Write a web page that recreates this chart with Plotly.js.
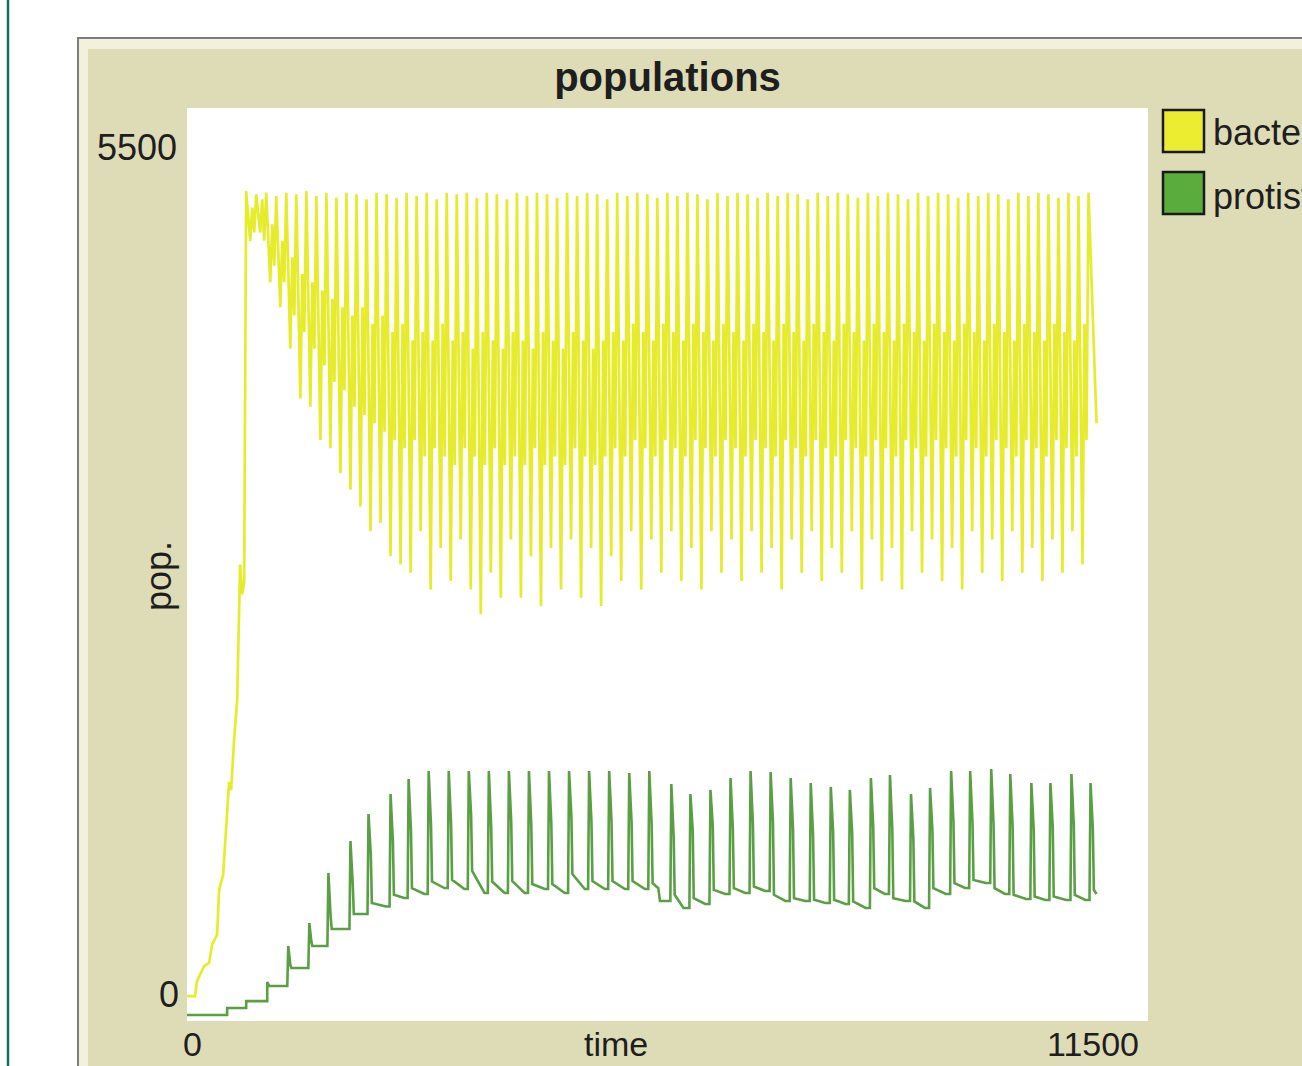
<!DOCTYPE html>
<html>
<head>
<meta charset="utf-8">
<script src="https://cdn.plot.ly/plotly-3.0.1.min.js"></script>
<style>html,body{margin:0;padding:0;background:#fff;overflow:hidden}#chart{width:1302px;height:1066px}</style>
</head>
<body>
<div id="chart"></div>
<script>
// ---- data ----
const seriesNames = ['bacteria', 'protists'];
const xRange = [0, 11500];
const yRange = [0, 5500];
const xTickLabels = ['0', '11500'];
const yTickLabels = ['0', '5500'];

const bacteriaTime = [0, 96, 120, 204, 264, 300, 360, 384, 432, 456, 504, 528, 564, 600, 624, 636, 660, 684,
708, 756, 780, 804, 828, 876, 900, 924, 948, 996, 1020, 1044, 1068, 1116, 1140, 1164,
1188, 1236, 1260, 1284, 1308, 1356, 1380, 1404, 1428, 1476, 1500, 1524, 1548, 1596, 1620, 1644,
1668, 1716, 1740, 1764, 1788, 1836, 1860, 1884, 1908, 1956, 1980, 2004, 2028, 2076, 2100, 2124,
2148, 2196, 2220, 2244, 2268, 2316, 2340, 2364, 2388, 2436, 2460, 2484, 2508, 2556, 2580, 2604,
2628, 2676, 2700, 2724, 2748, 2796, 2820, 2844, 2868, 2916, 2940, 2964, 2988, 3036, 3060, 3084,
3108, 3156, 3180, 3204, 3228, 3276, 3300, 3324, 3348, 3396, 3420, 3444, 3468, 3516, 3540, 3564,
3588, 3636, 3660, 3684, 3708, 3756, 3780, 3804, 3828, 3876, 3900, 3924, 3948, 3996, 4020, 4044,
4068, 4116, 4140, 4164, 4188, 4236, 4260, 4284, 4308, 4356, 4380, 4404, 4428, 4476, 4500, 4524,
4548, 4596, 4620, 4644, 4668, 4716, 4740, 4764, 4788, 4836, 4860, 4884, 4908, 4956, 4980, 5004,
5028, 5076, 5100, 5124, 5148, 5196, 5220, 5244, 5268, 5316, 5340, 5364, 5388, 5436, 5460, 5484,
5508, 5556, 5580, 5604, 5628, 5676, 5700, 5724, 5748, 5796, 5820, 5844, 5868, 5916, 5940, 5964,
5988, 6036, 6060, 6084, 6108, 6156, 6180, 6204, 6228, 6276, 6300, 6324, 6348, 6396, 6420, 6444,
6468, 6516, 6540, 6564, 6588, 6636, 6660, 6684, 6708, 6756, 6780, 6804, 6828, 6876, 6900, 6924,
6948, 6996, 7020, 7044, 7068, 7116, 7140, 7164, 7188, 7236, 7260, 7284, 7308, 7356, 7380, 7404,
7428, 7476, 7500, 7524, 7548, 7596, 7620, 7644, 7668, 7716, 7740, 7764, 7788, 7836, 7860, 7884,
7908, 7956, 7980, 8004, 8028, 8076, 8100, 8124, 8148, 8196, 8220, 8244, 8268, 8316, 8340, 8364,
8388, 8436, 8460, 8484, 8508, 8556, 8580, 8604, 8628, 8676, 8700, 8724, 8748, 8796, 8820, 8844,
8868, 8916, 8940, 8964, 8988, 9036, 9060, 9084, 9108, 9156, 9180, 9204, 9228, 9276, 9300, 9324,
9348, 9396, 9420, 9444, 9468, 9516, 9540, 9564, 9588, 9636, 9660, 9684, 9708, 9756, 9780, 9804,
9828, 9876, 9900, 9924, 9948, 9996, 10020, 10044, 10068, 10116, 10140, 10164, 10188, 10236, 10260, 10284,
10308, 10356, 10380, 10404, 10428, 10476, 10500, 10524, 10548, 10596, 10620, 10644, 10668, 10716, 10740, 10764,
10788, 10884];

const bacteriaPop = [150, 150, 240, 330, 350, 460, 520, 790, 880, 1060, 1440, 1390, 1700, 1930, 2500, 2750, 2570, 2640,
5000, 4700, 4900, 4750, 4980, 4750, 4950, 4700, 4990, 4450, 4800, 4550, 4970, 4300, 4700, 4450,
4990, 4050, 4600, 4250, 4980, 3750, 4500, 4150, 5000, 3700, 4450, 4050, 4970, 3500, 4400, 3950,
4990, 3450, 4350, 3850, 4960, 3300, 4300, 3800, 4990, 3200, 4250, 3700, 4980, 3100, 4300, 3650,
4950, 2950, 4200, 3600, 4990, 3000, 4250, 3550, 4980, 2800, 4150, 3500, 4960, 2750, 4200, 3450,
4990, 2700, 4100, 3500, 4970, 2950, 4150, 3400, 4990, 2600, 4100, 3450, 4950, 2850, 4200, 3400,
4990, 2650, 4100, 3350, 4980, 2900, 4150, 3450, 4990, 2600, 4050, 3400, 4960, 2450, 4150, 3350,
4990, 2700, 4100, 3450, 4980, 2550, 4050, 3350, 4950, 2900, 4150, 3400, 4990, 2550, 4100, 3350,
4970, 2800, 4050, 3450, 4990, 2500, 4150, 3350, 4980, 2850, 4100, 3400, 4960, 2600, 4050, 3350,
4990, 2900, 4150, 3450, 4970, 2550, 4100, 3400, 4990, 2850, 4050, 3350, 4980, 2500, 4100, 3400,
4950, 2800, 4150, 3450, 4990, 2650, 4100, 3400, 4970, 2950, 4200, 3500, 4990, 2600, 4150, 3450,
4980, 2900, 4100, 3400, 4960, 2700, 4200, 3500, 4990, 2950, 4150, 3450, 4970, 2650, 4100, 3400,
4990, 2850, 4200, 3500, 4980, 2600, 4150, 3450, 4950, 2950, 4100, 3400, 4990, 2700, 4200, 3500,
4970, 2900, 4150, 3450, 4990, 2650, 4100, 3400, 4980, 2950, 4200, 3500, 4960, 2700, 4150, 3450,
4990, 2850, 4100, 3400, 4970, 2600, 4200, 3500, 4990, 2900, 4150, 3450, 4980, 2700, 4100, 3400,
4950, 2950, 4200, 3500, 4990, 2650, 4150, 3450, 4970, 2850, 4100, 3400, 4990, 2700, 4200, 3500,
4980, 2950, 4150, 3450, 4960, 2600, 4100, 3400, 4990, 2900, 4200, 3500, 4970, 2650, 4150, 3450,
4990, 2850, 4100, 3400, 4980, 2600, 4200, 3500, 4950, 2950, 4150, 3450, 4990, 2700, 4100, 3400,
4970, 2900, 4200, 3500, 4990, 2650, 4150, 3450, 4980, 2850, 4100, 3400, 4960, 2600, 4200, 3500,
4990, 2950, 4150, 3450, 4970, 2700, 4100, 3400, 4990, 2900, 4200, 3500, 4980, 2650, 4150, 3450,
4950, 2950, 4100, 3400, 4990, 2700, 4200, 3500, 4970, 2850, 4150, 3450, 4990, 2650, 4100, 3400,
4980, 2900, 4200, 3500, 4960, 2700, 4150, 3450, 4990, 2950, 4100, 3400, 4970, 2750, 4200, 3500,
4990, 3600];

const protistTime = [0, 480, 481, 708, 709, 960, 961, 984,
1200, 1212, 1236, 1248, 1452, 1464, 1488, 1500, 1680, 1692, 1720, 1732,
1944, 1956, 1984, 1996, 2160, 2172, 2200, 2212, 2380,
2424, 2436, 2464, 2476, 2600, 2640, 2652, 2680, 2692, 2840,
2880, 2892, 2920, 2932, 3080, 3120, 3132, 3160, 3172, 3320,
3360, 3372, 3400, 3412, 3560, 3600, 3612, 3640, 3652, 3800,
3840, 3852, 3880, 3892, 4040, 4080, 4092, 4120, 4132, 4280,
4320, 4332, 4360, 4372, 4520, 4560, 4572, 4600, 4612, 4760,
4800, 4812, 4840, 4852, 5000, 5040, 5052, 5080, 5092, 5240,
5280, 5292, 5320, 5332, 5480, 5520, 5532, 5560, 5572, 5640, 5660, 5740,
5784, 5796, 5824, 5836, 5940, 6012, 6024, 6052, 6064, 6200,
6252, 6264, 6292, 6304, 6440, 6492, 6504, 6532, 6544, 6680,
6732, 6744, 6772, 6784, 6920, 6972, 6984, 7012, 7024, 7160,
7212, 7224, 7252, 7264, 7400, 7452, 7464, 7492, 7504, 7640,
7692, 7704, 7732, 7744, 7880, 7920, 7932, 7960, 7972, 8120,
8172, 8184, 8212, 8224, 8350, 8400, 8412, 8440, 8452, 8600,
8652, 8664, 8692, 8704, 8830, 8880, 8892, 8920, 8932, 9080,
9132, 9144, 9172, 9184, 9310, 9360, 9372, 9400, 9412, 9560,
9612, 9624, 9652, 9664, 9790, 9840, 9852, 9880, 9892, 10040,
10092, 10104, 10132, 10144, 10270, 10320, 10332, 10360, 10372, 10520,
10572, 10584, 10612, 10624, 10750, 10800, 10812, 10840, 10852, 10884];

const protistPop = [36, 36, 78, 78, 120, 120, 235, 211,
211, 452, 340, 319, 319, 590, 480, 452, 452, 892, 620, 554,
554, 1084, 820, 645, 645, 1247, 1000, 711, 690,
690, 1367, 1080, 760, 741, 741, 1458, 1150, 800, 765,
765, 1506, 1180, 840, 801, 801, 1506, 1190, 850, 795,
795, 1506, 1240, 904, 771, 771, 1506, 1170, 840, 771,
771, 1506, 1200, 843, 771, 771, 1506, 1180, 825, 795,
795, 1506, 1190, 825, 771, 771, 1506, 1230, 885, 795,
795, 1506, 1200, 843, 795, 795, 1506, 1200, 843, 795,
795, 1494, 1200, 843, 795, 795, 1506, 1190, 830, 800, 723, 723,
723, 1428, 1110, 760, 681, 681, 1367, 1150, 740, 705,
705, 1392, 1175, 790, 765, 765, 1464, 1160, 800, 771,
771, 1506, 1187, 810, 783, 783, 1500, 1200, 760, 723,
723, 1464, 1160, 740, 723, 723, 1434, 1120, 730, 711,
711, 1410, 1140, 730, 705, 705, 1392, 1130, 720, 681,
681, 1464, 1170, 800, 765, 765, 1482, 1160, 740, 723,
723, 1367, 1100, 720, 681, 681, 1404, 1150, 800, 765,
765, 1506, 1200, 830, 801, 801, 1506, 1190, 850, 831,
831, 1518, 1180, 800, 765, 765, 1488, 1170, 760, 735,
735, 1434, 1160, 750, 729, 729, 1434, 1170, 750, 729,
729, 1488, 1180, 760, 729, 729, 1434, 1160, 790, 765];

// ---- styling / layout ----
const FONT = '"Liberation Sans", Arial, sans-serif';
const bacteriaColor = '#e6ec2c';
const protistColor = '#5a9f44';
// pixel helpers for decoration placement (plot area 187..1148 x 108..1021)
const PL = 187, PR = 1148, PT = 108, PB = 1021;
const px = v => (v - PL) / (PR - PL);
const py = v => (PB - v) / (PB - PT);

const traces = [
  {x: bacteriaTime, y: bacteriaPop, name: seriesNames[0], type: 'scatter', mode: 'lines',
   line: {color: bacteriaColor, width: 2.7}, showlegend: false, hoverinfo: 'x+y+name'},
  {x: protistTime, y: protistPop, name: seriesNames[1], type: 'scatter', mode: 'lines',
   line: {color: protistColor, width: 2.6}, showlegend: false, hoverinfo: 'x+y+name'}
];

const shapes = [
  {type: 'line', xref: 'paper', yref: 'paper', x0: px(8), x1: px(8), y0: py(1070), y1: py(-4), line: {color: '#13705c', width: 2.5}, layer: 'below'},
  {type: 'rect', xref: 'paper', yref: 'paper', x0: px(78), x1: px(1340), y0: py(1090), y1: py(38), fillcolor: '#f3f1dc', line: {color: '#7d7d7d', width: 2}, layer: 'below'},
  {type: 'rect', xref: 'paper', yref: 'paper', x0: px(88), x1: px(1340), y0: py(1090), y1: py(49), fillcolor: '#dedcb6', line: {width: 0}, layer: 'below'},
  {type: 'rect', xref: 'paper', yref: 'paper', x0: 0, x1: 1, y0: 0, y1: 1, fillcolor: '#ffffff', line: {width: 0}, layer: 'below'},
  {type: 'rect', xref: 'paper', yref: 'paper', x0: px(1163), x1: px(1204), y0: py(152), y1: py(110), fillcolor: '#ecec30', line: {color: '#1a1a1a', width: 2.5}, layer: 'above'},
  {type: 'rect', xref: 'paper', yref: 'paper', x0: px(1163), x1: px(1204), y0: py(214), y1: py(172), fillcolor: '#5aac3c', line: {color: '#1a1a1a', width: 2.5}, layer: 'above'}
];

const lab = (text, x, y, xa, extra) => Object.assign({
  text: text, xref: 'paper', yref: 'paper', x: px(x), y: py(y), xanchor: xa, yanchor: 'middle',
  showarrow: false, borderpad: 0, font: {family: FONT, size: 36, color: '#1e1e1e'}
}, extra || {});

const annotations = [
  lab(yTickLabels[1], 178, 147, 'right'),
  lab(yTickLabels[0], 180, 994, 'right'),
  lab(xTickLabels[0], 192, 1044, 'center', {font: {family: FONT, size: 34, color: '#1e1e1e'}}),
  lab(xTickLabels[1], 1140, 1044, 'right', {font: {family: FONT, size: 34, color: '#1e1e1e'}}),
  lab('time', 616, 1044, 'center', {font: {family: FONT, size: 34, color: '#1e1e1e'}}),
  lab('pop.', 158, 576, 'center', {textangle: -90}),
  lab(seriesNames[0], 1212, 133, 'left'),
  lab(seriesNames[1], 1212, 196, 'left')
];

const layout = {
  width: 1302, height: 1066,
  margin: {l: PL, r: 1302 - PR, t: PT, b: 1066 - PB, autoexpand: false},
  paper_bgcolor: '#ffffff', plot_bgcolor: 'rgba(0,0,0,0)',
  title: {text: 'populations', x: 0.5, xref: 'paper', xanchor: 'center', y: 1 - 77 / 1066, yref: 'container', yanchor: 'middle',
          font: {family: FONT, size: 40, weight: 700, color: '#1e1e1e'}},
  xaxis: {range: xRange, showgrid: false, zeroline: false, showline: false, showticklabels: false, ticks: '', fixedrange: true, title: {text: ''}},
  yaxis: {range: yRange, showgrid: false, zeroline: false, showline: false, showticklabels: false, ticks: '', fixedrange: true, title: {text: ''}},
  shapes: shapes,
  annotations: annotations,
  showlegend: false
};

Plotly.newPlot('chart', traces, layout, {displayModeBar: false, staticPlot: true});
</script>
</body>
</html>
